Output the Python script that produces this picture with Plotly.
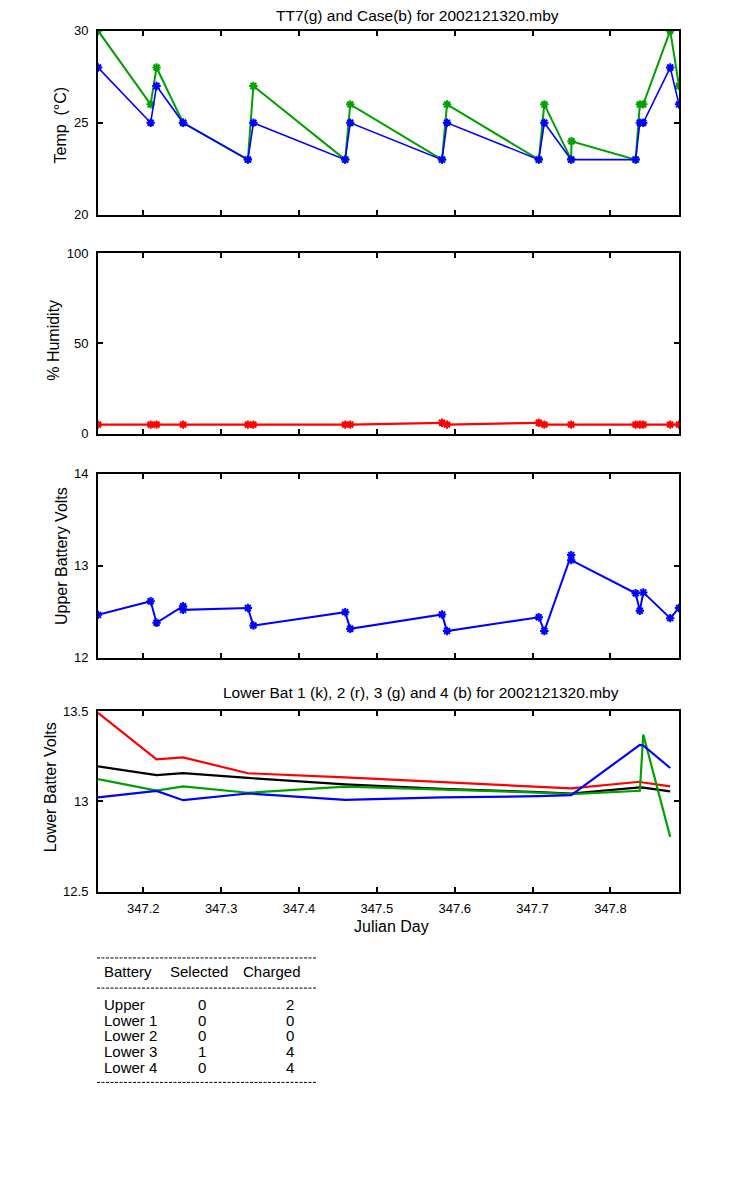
import plotly.graph_objects as go

W, H = 750, 1200
FONT = "Liberation Sans, Arial, sans-serif"

# ---------------- data ----------------
temp_time = [347.1418, 347.2094, 347.2170, 347.2511, 347.3343, 347.3414, 347.4593, 347.4658,
             347.5837, 347.5901, 347.7080, 347.7151, 347.7496, 347.8324, 347.8378, 347.8422,
             347.8768, 347.8881]
tt7_time = [347.1418, 347.2094, 347.2170, 347.2511, 347.3343, 347.3414, 347.4593, 347.4658,
            347.5837, 347.5901, 347.7080, 347.7151, 347.7496, 347.7500, 347.8324, 347.8378,
            347.8422, 347.8768, 347.8881]
tt7_temp = [30, 26, 28, 25, 23, 27, 23, 26, 23, 26, 23, 26, 23, 24, 23, 26, 26, 30, 27]
case_temp = [28, 25, 27, 25, 23, 25, 23, 25, 23, 25, 23, 25, 23, 23, 25, 25, 28, 26]
humidity = [5, 5, 5, 5, 5, 5, 5, 5, 6, 5, 6, 5, 5, 5, 5, 5, 5, 5]

ub_time = [347.1418, 347.2094, 347.2170, 347.2511, 347.2511, 347.3343, 347.3414, 347.4593,
           347.4658, 347.5837, 347.5901, 347.7080, 347.7151, 347.7496, 347.7496, 347.8324,
           347.8378, 347.8422, 347.8768, 347.8881]
upper_volts = [12.466, 12.614, 12.38, 12.56, 12.52, 12.54, 12.35, 12.495, 12.315, 12.47,
               12.29, 12.44, 12.29, 13.115, 13.06, 12.70, 12.51, 12.71, 12.43, 12.54]

lb_time = [347.1418, 347.2170, 347.2511, 347.3343, 347.4593, 347.5837, 347.7080, 347.7496,
           347.8378, 347.8422, 347.8768]
lower1 = [13.194, 13.146, 13.157, 13.130, 13.094, 13.070, 13.052, 13.044, 13.078, 13.076, 13.056]
lower2 = [13.490, 13.233, 13.244, 13.156, 13.133, 13.106, 13.081, 13.072, 13.109, 13.105, 13.083]
lower3 = [13.124, 13.060, 13.083, 13.048, 13.082, 13.067, 13.049, 13.041, 13.059, 13.370, 12.804]
lower4 = [13.022, 13.058, 13.007, 13.044, 13.009, 13.022, 13.029, 13.035, 13.313, 13.310, 13.185]

x_ticks = [347.2, 347.3, 347.4, 347.5, 347.6, 347.7, 347.8]
x_tick_labels = ["347.2", "347.3", "347.4", "347.5", "347.6", "347.7", "347.8"]

battery_names = ["Upper", "Lower 1", "Lower 2", "Lower 3", "Lower 4"]
battery_selected = [0, 0, 0, 1, 0]
battery_charged = [2, 0, 0, 4, 4]

# ---------------- layout helpers ----------------
def px(x):
    return x / W


def py(y):
    return 1 - y / H


X0, X1 = 98, 679
panels = [(24, 210.5), (249.5, 432), (472.5, 659), (713, 896)]
xrange_ = [temp_time[0], temp_time[-1]]

GREEN = "#00a000"
BLUE = "#0000ff"
RED = "#ff0000"

fig = go.Figure()

mk = lambda c: dict(symbol="asterisk-open", size=7, line=dict(color=c, width=2))

# panel 1: temperature
fig.add_trace(go.Scatter(x=tt7_time, y=tt7_temp, mode="lines+markers",
                         line=dict(color=GREEN, width=2), marker=mk(GREEN),
                         xaxis="x", yaxis="y", showlegend=False))
fig.add_trace(go.Scatter(x=temp_time, y=case_temp, mode="lines+markers",
                         line=dict(color=BLUE, width=1.6), marker=mk(BLUE),
                         xaxis="x", yaxis="y", showlegend=False))
# panel 2: humidity
fig.add_trace(go.Scatter(x=temp_time, y=humidity, mode="lines+markers",
                         line=dict(color=RED, width=2.2), marker=mk(RED),
                         xaxis="x2", yaxis="y2", showlegend=False))
# panel 3: upper battery
fig.add_trace(go.Scatter(x=ub_time, y=upper_volts, mode="lines+markers",
                         line=dict(color=BLUE, width=2), marker=mk(BLUE),
                         xaxis="x3", yaxis="y3", showlegend=False))
# panel 4: lower batteries
for vals, col in [(lower1, "#000000"), (lower2, RED), (lower3, GREEN), (lower4, BLUE)]:
    fig.add_trace(go.Scatter(x=lb_time, y=vals, mode="lines",
                             line=dict(color=col, width=2.2),
                             xaxis="x4", yaxis="y4", showlegend=False))

axis_common = dict(showline=True, linecolor="black", linewidth=2, mirror="allticks",
                   ticks="inside", ticklen=5, tickwidth=2, tickcolor="black",
                   showgrid=False, zeroline=False,
                   tickfont=dict(family=FONT, size=13, color="black"))

yranges = [([20, 30], [20, 25, 30]), ([0, 100], [0, 50, 100]),
           ([12, 14], [12, 13, 14]), ([12.5, 13.5], [12.5, 13, 13.5])]

layout = dict(width=W, height=H, autosize=False,
              margin=dict(l=0, r=0, t=0, b=0),
              paper_bgcolor="white", plot_bgcolor="white",
              font=dict(family=FONT, color="black"))

for i, ((top, bot), (yr, yt)) in enumerate(zip(panels, yranges)):
    sfx = "" if i == 0 else str(i + 1)
    xa = dict(axis_common, domain=[px(X0), px(X1)], range=xrange_,
              anchor="y" + sfx, tickvals=x_ticks, ticktext=x_tick_labels,
              showticklabels=(i == 3), ticklabelstandoff=4)
    ya = dict(axis_common, domain=[py(bot), py(top)], range=yr, tickvals=yt,
              anchor="x" + sfx, ticklabelstandoff=5)
    layout["xaxis" + sfx] = xa
    layout["yaxis" + sfx] = ya

fig.update_layout(**layout)

annots = []


def text(x, y, s, size=15, xanchor="center", angle=0):
    annots.append(dict(x=px(x), y=py(y), xref="paper", yref="paper", text=s,
                       showarrow=False, xanchor=xanchor, yanchor="middle",
                       textangle=angle,
                       font=dict(family=FONT, size=size, color="black")))


text(417, 9, "TT7(g) and Case(b) for 2002121320.mby", 15.5)
text(421, 694, "Lower Bat 1 (k), 2 (r), 3 (g) and 4 (b) for 2002121320.mby", 15.5)
text(392, 931, "Julian Day", 16)
text(61, 119, "Temp  (°C)", 16, angle=-90)
text(54, 337, "% Humidity", 16, angle=-90)
text(61, 556, "Upper Battery Volts", 16, angle=-90)
text(50, 790, "Lower Batter Volts", 16, angle=-90)

# table
text(101.5, 977, "Battery", 15, xanchor="left")
text(167.5, 977, "Selected", 15, xanchor="left")
text(241, 977, "Charged", 15, xanchor="left")
row_y = [1010, 1026, 1042, 1058, 1074]
for name, sel, chg, yy in zip(battery_names, battery_selected, battery_charged, row_y):
    text(101.5, yy, name, 15, xanchor="left")
    text(202, yy, str(sel), 15)
    text(290, yy, str(chg), 15)

shapes = []
for yy in [963, 993.5, 1089]:
    shapes.append(dict(type="line", xref="paper", yref="paper",
                       x0=px(97), x1=px(317), y0=py(yy), y1=py(yy),
                       line=dict(color="black", width=1, dash="3px,1.5px")))

fig.update_layout(annotations=annots, shapes=shapes)
fig.write_html("out.html", config={"displayModeBar": False},
               post_script="document.body.style.margin='0';document.body.style.padding='0';")
